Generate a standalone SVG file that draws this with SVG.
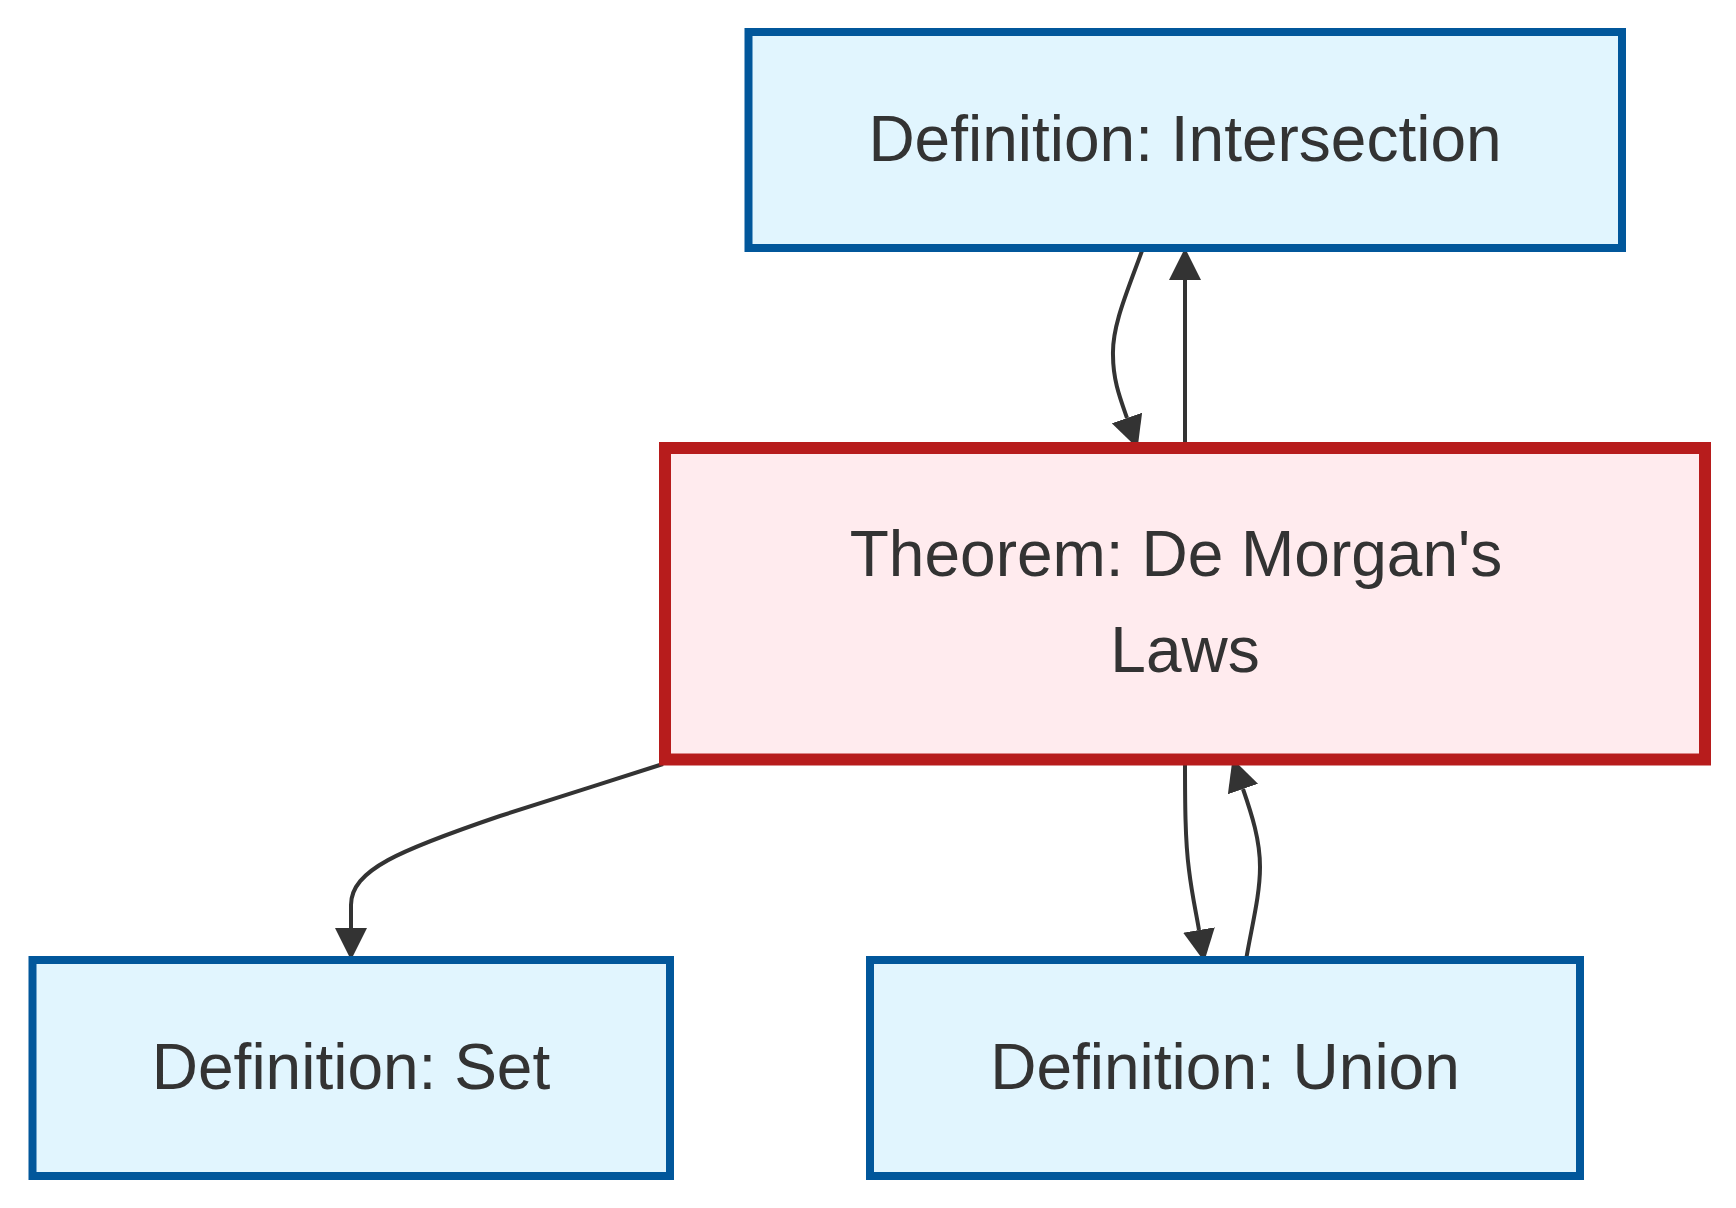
<svg xmlns="http://www.w3.org/2000/svg" width="1736" height="1208" viewBox="0 0 1736 1208">
  <style>
    .edge { fill: none; stroke: #333333; stroke-width: 4; }
    .def rect { fill: #e1f5fe; stroke: #01579b; stroke-width: 8; }
    .thm rect { fill: #ffebee; stroke: #b71c1c; stroke-width: 12; }
    text { font-family: "Liberation Sans", Arial, sans-serif; font-size: 64px; fill: #333333; text-anchor: middle; }
  </style>
  <defs>
    <marker id="arrow" viewBox="0 0 10 10" refX="0" refY="5" markerUnits="userSpaceOnUse" markerWidth="32" markerHeight="32" orient="auto">
      <path d="M0,0 L10,5 L0,10 z" fill="#333333"/>
    </marker>
  </defs>
  <rect x="0" y="0" width="1736" height="1208" fill="#ffffff"/>
  <g id="connectors">
    <!-- Intersection -> Theorem -->
    <path class="edge" d="M1143,248 C1128,290 1112,325 1113,355 C1113,380 1120,398 1127,418" marker-end="url(#arrow)"/>
    <!-- Theorem -> Intersection -->
    <path class="edge" d="M1185,448 L1185,280" marker-end="url(#arrow)"/>
    <!-- Theorem -> Set -->
    <path class="edge" d="M663,764 C610,781 550,800 500,816 C400,850 351,870 351,905 L351,928" marker-end="url(#arrow)"/>
    <!-- Theorem -> Union -->
    <path class="edge" d="M1185,760 C1185,800 1185,840 1189,870 C1192,895 1196,912 1199,930" marker-end="url(#arrow)"/>
    <!-- Union -> Theorem -->
    <path class="edge" d="M1246,960 C1252,925 1260,895 1260,867 C1260,840 1252,815 1243,789" marker-end="url(#arrow)"/>
  </g>
  <g id="node-intersection" class="def">
    <rect x="748.5" y="32" width="873.5" height="216"/>
    <text x="1185" y="161">Definition: Intersection</text>
  </g>
  <g id="node-theorem" class="thm">
    <rect x="665" y="448" width="1040" height="311.5"/>
    <text x="1176" y="576">Theorem: De Morgan's</text>
    <text x="1185" y="672">Laws</text>
  </g>
  <g id="node-set" class="def">
    <rect x="32.5" y="960" width="637.5" height="216"/>
    <text x="351" y="1089">Definition: Set</text>
  </g>
  <g id="node-union" class="def">
    <rect x="870" y="960" width="710" height="216"/>
    <text x="1225" y="1089">Definition: Union</text>
  </g>
</svg>
